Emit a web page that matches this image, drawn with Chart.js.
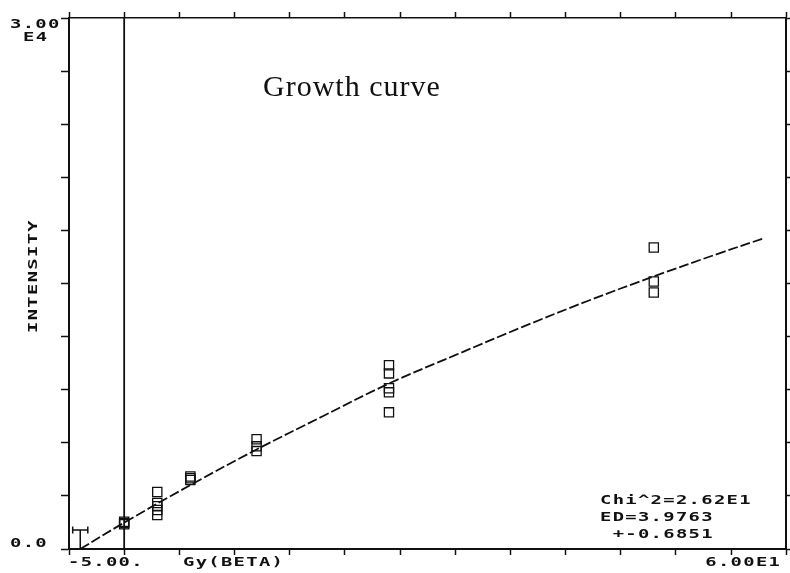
<!DOCTYPE html>
<html>
<head>
<meta charset="utf-8">
<title>Growth curve</title>
<script src="https://cdn.jsdelivr.net/npm/chart.js@4.4.1/dist/chart.umd.min.js"></script>
<style>
  html, body { margin: 0; padding: 0; background: #fff; overflow: hidden; }
  #wrap { width: 790px; height: 573px; overflow: hidden; }
</style>
</head>
<body>
<div id="wrap"><canvas id="growthChart" width="794" height="573"></canvas></div>
<script>
// 線量 (Gy) ごとの測定値
const DOSES   = [0, 3, 6, 12, 24, 48];
const POINTS = [
  [1400, 1470, 1540],
  [3220, 2600, 2420, 2200, 1920],
  [4100, 4000, 3900],
  [6200, 5800, 5530],
  [10380, 9920, 9080, 8850, 7720],
  [17030, 15110, 14490]
];

// フィット曲線
const CURVE_X = [-3.98, 0, 6, 12, 18, 24, 30, 36, 42, 48, 54, 58];
const CURVE_Y = [0, 1490, 3610, 5620, 7500, 9350, 10950, 12520, 14010, 15400, 16720, 17560];

// ED とその誤差
const ED_X   = -3.98;
const ED_ERR = 0.685;
const ED_BAR_Y = 1070;
const ED_CAP   = 200;

// 軸の範囲と目盛り
const X_MIN = -5, X_MAX = 60, X_STEP = 5;
const Y_MIN = 0, Y_MAX = 30000, Y_STEP = 3000;

// ラベル類
const TITLE = 'Growth curve';
const Y_TOP_LABEL = ['3.00', 'E4'];
const Y_BOTTOM_LABEL = '0.0';
const X_LEFT_LABEL = '-5.00.';
const X_UNIT_LABEL = 'Gy(BETA)';
const X_RIGHT_LABEL = '6.00E1';
const Y_TITLE = 'INTENSITY';
const FIT_INFO = ['Chi^2=2.62E1', 'ED=3.9763', ' +-0.6851'];

const INK = '#111';
const SX = 1.45;

// 散布点データを組み立て
const scatterData = [];
DOSES.forEach((d, i) => POINTS[i].forEach(v => scatterData.push({ x: d, y: v })));

const curveData = CURVE_X.map((x, i) => ({ x: x, y: CURVE_Y[i] }));

// ED の誤差棒（null で区切る）
const errData = [
  { x: ED_X - ED_ERR, y: ED_BAR_Y }, { x: ED_X + ED_ERR, y: ED_BAR_Y }, { x: null, y: null },
  { x: ED_X - ED_ERR, y: ED_BAR_Y - ED_CAP }, { x: ED_X - ED_ERR, y: ED_BAR_Y + ED_CAP }, { x: null, y: null },
  { x: ED_X + ED_ERR, y: ED_BAR_Y - ED_CAP }, { x: ED_X + ED_ERR, y: ED_BAR_Y + ED_CAP }, { x: null, y: null },
  { x: ED_X, y: 0 }, { x: ED_X, y: ED_BAR_Y }
];

const zeroLine = [{ x: 0, y: Y_MIN }, { x: 0, y: Y_MAX }];

// ドットマトリクス風の文字
function bitText(ctx, s, x, y, align) {
  ctx.save();
  ctx.font = 'bold 13px "DejaVu Sans Mono"';
  ctx.letterSpacing = '0.9px';
  ctx.fillStyle = INK;
  ctx.textAlign = 'left';
  ctx.textBaseline = 'alphabetic';
  const w = ctx.measureText(s).width * SX;
  const x0 = align === 'right' ? x - w : align === 'center' ? x - w / 2 : x;
  ctx.translate(x0, y);
  ctx.scale(SX, 1);
  ctx.fillText(s, 0, 0);
  ctx.restore();
}

const textPlugin = {
  id: 'labels',
  afterDraw(chart) {
    const ctx = chart.ctx;
    const xs = chart.scales.x, ys = chart.scales.y;

    // タイトル
    ctx.save();
    ctx.font = '30px "Liberation Serif"';
    ctx.letterSpacing = '1px';
    ctx.fillStyle = INK;
    ctx.textBaseline = 'alphabetic';
    ctx.fillText(TITLE, 263, 96);
    ctx.restore();

    // 縦軸の端ラベル
    bitText(ctx, Y_TOP_LABEL[0], 10, ys.getPixelForValue(Y_MAX) + 10);
    bitText(ctx, Y_TOP_LABEL[1], 23, ys.getPixelForValue(Y_MAX) + 23);
    bitText(ctx, Y_BOTTOM_LABEL, 10, ys.getPixelForValue(Y_MIN) - 2);

    // 横軸ラベル
    const by = chart.chartArea.bottom + 17;
    bitText(ctx, X_LEFT_LABEL, xs.getPixelForValue(X_MIN) - 1, by);
    bitText(ctx, X_UNIT_LABEL, 183, by);
    bitText(ctx, X_RIGHT_LABEL, xs.getPixelForValue(X_MAX) - 5, by, 'right');

    // 縦軸タイトル
    ctx.save();
    ctx.translate(37, 276);
    ctx.rotate(-Math.PI / 2);
    bitText(ctx, Y_TITLE, 0, 0, 'center');
    ctx.restore();

    // フィット結果
    FIT_INFO.forEach((s, i) => bitText(ctx, s, 600, 504 + i * 17));
  }
};

const gridOpts = (len) => ({
  display: true,
  drawOnChartArea: false,
  drawTicks: true,
  tickLength: len,
  tickColor: INK,
  tickWidth: 1.5
});

new Chart(document.getElementById('growthChart'), {
  type: 'scatter',
  data: {
    datasets: [
      {
        label: 'fit',
        type: 'line',
        data: curveData,
        borderColor: INK,
        borderWidth: 1.8,
        borderDash: [10, 3],
        pointRadius: 0,
        tension: 0.4,
        fill: false
      },
      {
        label: 'data',
        data: scatterData,
        pointStyle: 'rect',
        pointRadius: 6.5,
        borderColor: INK,
        borderWidth: 1.3,
        backgroundColor: 'rgba(0,0,0,0)'
      },
      {
        label: 'zero',
        type: 'line',
        data: zeroLine,
        borderColor: INK,
        borderWidth: 1.8,
        pointRadius: 0
      },
      {
        label: 'ed',
        type: 'line',
        data: errData,
        borderColor: INK,
        borderWidth: 1.5,
        pointRadius: 0,
        spanGaps: false
      }
    ]
  },
  options: {
    responsive: false,
    animation: false,
    layout: { padding: 0 },
    plugins: { legend: { display: false }, tooltip: { enabled: false }, title: { display: false } },
    scales: {
      x: {
        type: 'linear', position: 'bottom', min: X_MIN, max: X_MAX,
        ticks: { display: false, stepSize: X_STEP },
        grid: gridOpts(6),
        border: { display: true, color: INK, width: 2 },
        afterFit: s => { s.height = 24; }
      },
      x2: {
        type: 'linear', position: 'top', min: X_MIN, max: X_MAX,
        ticks: { display: false, stepSize: X_STEP },
        grid: gridOpts(6),
        border: { display: true, color: INK, width: 1.5 },
        afterFit: s => { s.height = 18; }
      },
      y: {
        type: 'linear', position: 'left', min: Y_MIN, max: Y_MAX,
        ticks: { display: false, stepSize: Y_STEP },
        grid: gridOpts(8),
        border: { display: true, color: INK, width: 2 },
        afterFit: s => { s.width = 69; }
      },
      y2: {
        type: 'linear', position: 'right', min: Y_MIN, max: Y_MAX,
        ticks: { display: false, stepSize: Y_STEP },
        grid: gridOpts(4),
        border: { display: true, color: INK, width: 2 },
        afterFit: s => { s.width = 0; }
      }
    }
  },
  plugins: [textPlugin]
});
</script>
</body>
</html>
